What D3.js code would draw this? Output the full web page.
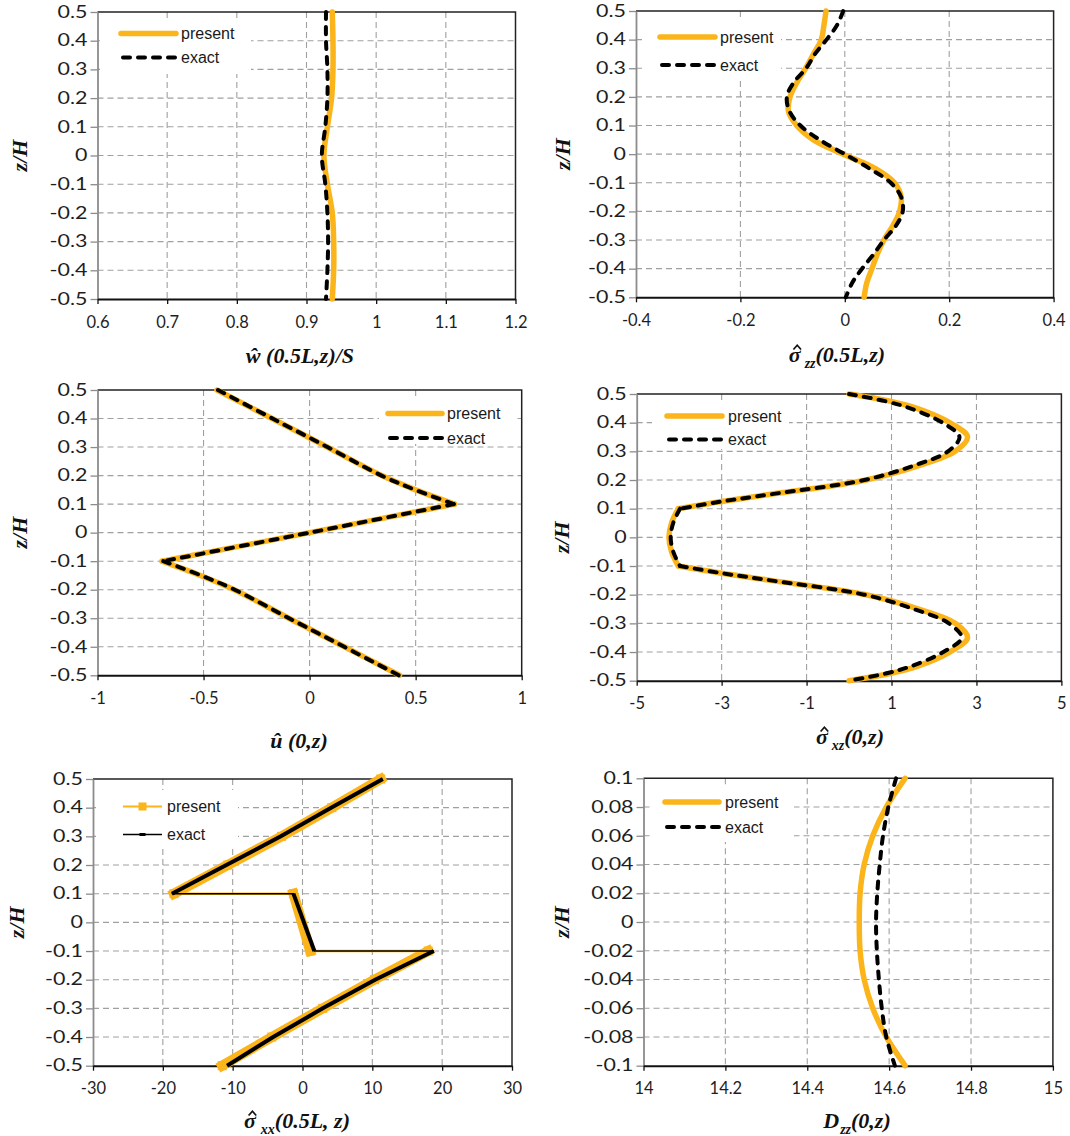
<!DOCTYPE html>
<html>
<head>
<meta charset="utf-8">
<script src="https://cdn.jsdelivr.net/npm/d3@7"></script>
<style>
  body { margin: 0; background: #fff; }
</style>
</head>
<body>
<svg id="chart" width="1070" height="1136"></svg>
<script>
// ---------- shared thickness coordinate ----------
const zTicks = [-0.5, -0.4, -0.3, -0.2, -0.1, 0, 0.1, 0.2, 0.3, 0.4, 0.5];
const zTicksCore = [-0.1, -0.08, -0.06, -0.04, -0.02, 0, 0.02, 0.04, 0.06, 0.08, 0.1];

// ---------- w(0.5L,z)/S ----------
const zW = [0.5, 0.4, 0.3, 0.2, 0.1, 0, -0.1, -0.2, -0.3, -0.4, -0.5];
const wPresent = [0.937, 0.938, 0.938, 0.936, 0.930, 0.925, 0.930, 0.937, 0.939, 0.939, 0.937];
const wExact   = [0.928, 0.928, 0.930, 0.930, 0.927, 0.922, 0.927, 0.930, 0.931, 0.930, 0.928];
const wTicks = [0.6, 0.7, 0.8, 0.9, 1, 1.1, 1.2];

// ---------- sigma_zz(0.5L,z) ----------
const zSzz = [0.5, 0.45, 0.4, 0.35, 0.3, 0.25, 0.2, 0.15, 0.1, 0.05, 0, -0.05, -0.1, -0.15, -0.2, -0.25, -0.3, -0.35, -0.4, -0.45, -0.5];
const szzPresent = [-0.036, -0.040, -0.045, -0.060, -0.075, -0.092, -0.105, -0.108, -0.092, -0.060, -0.003, 0.058, 0.095, 0.108, 0.105, 0.092, 0.075, 0.062, 0.052, 0.042, 0.037];
const szzExact   = [-0.003, -0.015, -0.035, -0.057, -0.074, -0.098, -0.111, -0.106, -0.085, -0.048, 0.000, 0.047, 0.088, 0.108, 0.111, 0.098, 0.075, 0.055, 0.033, 0.014, 0.002];
const szzTicks = [-0.4, -0.2, 0, 0.2, 0.4];

// ---------- u(0,z) ----------
const zU = [0.5, 0.4, 0.3, 0.2, 0.15, 0.1, 0, -0.1, -0.15, -0.2, -0.3, -0.4, -0.5];
const uPresent = [-0.437, -0.177, 0.083, 0.340, 0.500, 0.683, 0, -0.696, -0.515, -0.355, -0.098, 0.164, 0.424];
const uExact   = [-0.432, -0.175, 0.084, 0.339, 0.498, 0.680, 0, -0.690, -0.512, -0.353, -0.097, 0.163, 0.420];
const uTicks = [-1, -0.5, 0, 0.5, 1];

// ---------- sigma_xz(0,z) ----------
const zSxz = [0.5, 0.475, 0.45, 0.4, 0.35, 0.3, 0.25, 0.2, 0.15, 0.125, 0.1, 0.05, 0, -0.05, -0.1, -0.125, -0.15, -0.2, -0.25, -0.3, -0.35, -0.4, -0.45, -0.475, -0.5];
const sxzPresent = [0.0, 0.96, 1.60, 2.37, 2.79, 2.50, 1.64, 0.40, -1.85, -3.00, -4.02, -4.18, -4.24, -4.18, -4.02, -3.00, -1.85, 0.40, 1.64, 2.50, 2.79, 2.37, 1.60, 0.96, 0.0];
const sxzExact   = [0.0, 0.85, 1.44, 2.20, 2.60, 2.33, 1.52, 0.36, -1.85, -3.00, -3.98, -4.14, -4.20, -4.14, -3.98, -3.00, -1.85, 0.36, 1.52, 2.35, 2.65, 2.22, 1.45, 0.86, 0.0];
const sxzTicks = [-5, -3, -1, 1, 3, 5];

// ---------- sigma_xx(0.5L,z), one array per layer ----------
const zSxxTop  = [0.5, 0.4, 0.3, 0.2, 0.1];
const zSxxCore = [0.1, -0.1];
const zSxxBot  = [-0.1, -0.2, -0.3, -0.4, -0.5];
const sxxPresentTop  = [11.2, 4.2, -3.0, -10.7, -18.4];
const sxxPresentCore = [-1.3, 1.1];
const sxxPresentBot  = [18.0, 10.3, 2.9, -4.4, -11.5];
const sxxExactTop  = [11.5, 4.1, -3.1, -10.9, -18.7];
const sxxExactCore = [-1.3, 1.7];
const sxxExactBot  = [18.8, 10.4, 2.9, -4.2, -10.8];
const sxxTicks = [-30, -20, -10, 0, 10, 20, 30];

// ---------- D_zz(0,z) ----------
const zD = [0.1, 0.08, 0.06, 0.04, 0.02, 0, -0.02, -0.04, -0.06, -0.08, -0.1];
const dPresent = [14.639, 14.593, 14.560, 14.539, 14.529, 14.527, 14.529, 14.539, 14.560, 14.593, 14.639];
const dExact   = [14.617, 14.598, 14.585, 14.577, 14.571, 14.568, 14.570, 14.575, 14.582, 14.593, 14.614];
const dTicks = [14, 14.2, 14.4, 14.6, 14.8, 15];

const seriesNames = ["present", "exact"];

// ---------- drawing ----------
const ORANGE = "#FBB419";
const SERIF = "'Liberation Serif', 'DejaVu Serif', serif";
const svg = d3.select("#chart");
svg.append("rect").attr("width", 1070).attr("height", 1136).attr("fill", "#fff");

const pts = (zs, vs) => zs.map((z, i) => [vs[i], z]);

// split a profile into layers at the interfaces z = +-0.1 (interface point kept in both)
function layers(points) {
  return [
    points.filter(p => p[1] >= 0.1 - 1e-9),
    points.filter(p => p[1] <= 0.1 + 1e-9 && p[1] >= -0.1 - 1e-9),
    points.filter(p => p[1] <= -0.1 + 1e-9)
  ].filter(s => s.length > 1);
}

function addPanel(o) {
  const b = o.box;
  const x = d3.scaleLinear().domain([o.xTicks[0], o.xTicks[o.xTicks.length - 1]]).range([b.left, b.right]);
  const y = d3.scaleLinear().domain([o.yTicks[0], o.yTicks[o.yTicks.length - 1]]).range([b.bottom, b.top]);
  const g = svg.append("g");

  const grid = g.append("g").attr("fill", "none").attr("stroke", "#a0a0a0")
    .attr("stroke-width", 1.1).attr("stroke-dasharray", "6,4");
  grid.append("g").selectAll("line").data(o.xTicks.slice(1, -1)).join("line")
    .attr("x1", d => x(d)).attr("x2", d => x(d)).attr("y1", b.top).attr("y2", b.bottom);
  grid.append("g").selectAll("line").data(o.yTicks.slice(1, -1)).join("line")
    .attr("x1", b.left).attr("x2", b.right).attr("y1", d => y(d)).attr("y2", d => y(d));

  g.append("path").attr("d", `M${b.left},${b.top}H${b.right}V${b.bottom}`)
    .attr("fill", "none").attr("stroke", "#222").attr("stroke-width", 1.5);

  const ay = g.append("g").attr("transform", `translate(${b.left},0)`)
    .call(d3.axisLeft(y).tickValues(o.yTicks).tickFormat(String).tickSize(7).tickSizeOuter(0));
  ay.select(".domain").attr("stroke", "#8c8c8c").attr("stroke-width", 1.8);
  ay.selectAll(".tick line").attr("stroke", "#8c8c8c").attr("stroke-width", 1.3);
  ay.selectAll(".tick text")
    .attr("font-family", "Lato, 'Open Sans', sans-serif").attr("font-size", 16.5).attr("fill", "#1e1e1e")
    .attr("x", -10 / 1.3).attr("transform", "scale(1.3,1)");

  const ax = g.append("g").attr("transform", `translate(0,${b.bottom})`)
    .call(d3.axisBottom(x).tickValues(o.xTicks).tickFormat(String).tickSize(5).tickPadding(12).tickSizeOuter(0));
  ax.select(".domain").attr("stroke", "#111").attr("stroke-width", 2);
  ax.selectAll(".tick line").attr("stroke", "#111").attr("stroke-width", 1.3);
  ax.selectAll(".tick text")
    .attr("font-family", "Lato, 'Open Sans', sans-serif").attr("font-size", 16.5).attr("fill", "#1e1e1e");

  // vertical axis title
  g.append("text").attr("transform", `translate(${o.yTitleX},${(b.top + b.bottom) / 2}) rotate(-90)`)
    .attr("text-anchor", "middle").attr("dy", "0.35em")
    .attr("font-family", SERIF).attr("font-weight", "bold")
    .attr("font-style", "italic").attr("font-size", 22).attr("fill", "#111").text("z/H");

  // horizontal axis title
  const t = g.append("text").attr("x", o.titleX).attr("y", o.titleY).attr("text-anchor", "middle")
    .attr("font-family", SERIF).attr("font-weight", "bold")
    .attr("font-style", "italic").attr("font-size", 22).attr("fill", "#111");
  o.title.forEach(part => {
    if (part.sub) {
      t.append("tspan").attr("font-size", 14).attr("dx", part.gap || 0).attr("dy", 6).text(part.sub);
      t.append("tspan").attr("dy", -6).text(part.after);
    } else {
      t.append("tspan").text(part.t);
    }
  });
  // circumflex accent drawn over the leading sigma
  if (o.hat) {
    const node = t.node();
    const s = node.getStartPositionOfChar(0), e = node.getEndPositionOfChar(0);
    const cx = (s.x + e.x) / 2 + 2.5, by = o.titleY - 12.5;
    g.append("path").attr("d", `M${cx - 3.8},${by} L${cx},${by - 4.2} L${cx + 3.8},${by}`)
      .attr("fill", "none").attr("stroke", "#111").attr("stroke-width", 1.7).attr("stroke-linejoin", "miter");
  }
  return { g, x, y };
}

function smoothLine(x, y, curve) {
  return d3.line().x(d => x(d[0])).y(d => y(d[1])).curve(curve || d3.curveCatmullRom.alpha(0.5));
}

function drawPair(p, present, exact, split) {
  const line = smoothLine(p.x, p.y);
  const pSegs = split ? layers(present) : [present];
  const eSegs = split ? layers(exact) : [exact];
  p.g.append("g").selectAll("path").data(pSegs).join("path")
    .attr("d", line).attr("fill", "none").attr("stroke", ORANGE)
    .attr("stroke-width", 5.5).attr("stroke-linecap", "round").attr("stroke-linejoin", "round");
  p.g.append("g").selectAll("path").data(eSegs).join("path")
    .attr("d", line).attr("fill", "none").attr("stroke", "#000")
    .attr("stroke-width", 4).attr("stroke-dasharray", "7,8").attr("stroke-linecap", "round");
}

function legend(p, L, markers) {
  const lg = p.g.append("g");
  lg.append("rect").attr("x", L.box[0]).attr("y", L.box[1]).attr("width", L.box[2]).attr("height", L.box[3]).attr("fill", "#fff");
  if (!markers) {
    lg.append("line").attr("x1", L.x0).attr("x2", L.x1).attr("y1", L.y[0]).attr("y2", L.y[0])
      .attr("stroke", ORANGE).attr("stroke-width", 5.5).attr("stroke-linecap", "round");
    lg.append("line").attr("x1", L.x0 + 2).attr("x2", L.x1).attr("y1", L.y[1]).attr("y2", L.y[1])
      .attr("stroke", "#000").attr("stroke-width", 4).attr("stroke-dasharray", "7,8").attr("stroke-linecap", "round");
  } else {
    const cx = (L.x0 + L.x1) / 2;
    lg.append("line").attr("x1", L.x0).attr("x2", L.x1).attr("y1", L.y[0]).attr("y2", L.y[0])
      .attr("stroke", ORANGE).attr("stroke-width", 2);
    lg.append("rect").attr("x", cx - 4).attr("y", L.y[0] - 4).attr("width", 8).attr("height", 8).attr("fill", ORANGE);
    lg.append("line").attr("x1", L.x0).attr("x2", L.x1).attr("y1", L.y[1]).attr("y2", L.y[1])
      .attr("stroke", "#000").attr("stroke-width", 1.5);
    lg.append("rect").attr("x", cx - 3).attr("y", L.y[1] - 1.5).attr("width", 6).attr("height", 3).attr("fill", "#000");
  }
  lg.selectAll("text").data(seriesNames).join("text")
    .attr("x", L.tx).attr("y", (d, i) => L.y[i] + 5.5)
    .attr("font-family", "'Liberation Sans', Arial, sans-serif").attr("font-size", 16).attr("fill", "#1a1a1a")
    .text(d => d);
}

const SIG = "\u03C3";

// top-left: deflection
const p1 = addPanel({ box: { left: 97.5, right: 515.5, top: 12, bottom: 299 }, xTicks: wTicks, yTicks: zTicks,
  yTitleX: 19, titleX: 300, titleY: 363, title: [{ t: "\u0175 (0.5L,z)/S" }] });
drawPair(p1, pts(zW, wPresent), pts(zW, wExact), false);
legend(p1, { box: [100, 18, 151, 56], x0: 121, x1: 176, y: [33.5, 57.5], tx: 181 });

// top-right: transverse normal stress
const p2 = addPanel({ box: { left: 636, right: 1053.6, top: 11, bottom: 297.3 }, xTicks: szzTicks, yTicks: zTicks,
  yTitleX: 562, titleX: 837, titleY: 362, hat: true, title: [{ t: SIG }, { sub: "zz", gap: 4, after: "(0.5L,z)" }] });
drawPair(p2, pts(zSzz, szzPresent), pts(zSzz, szzExact), false);
legend(p2, { box: [645, 20, 136, 60], x0: 660, x1: 715, y: [37, 65], tx: 720 });

// middle-left: in-plane displacement
const p3 = addPanel({ box: { left: 97.5, right: 521.7, top: 390, bottom: 675.3 }, xTicks: uTicks, yTicks: zTicks,
  yTitleX: 19, titleX: 299, titleY: 748, title: [{ t: "\u00FB (0,z)" }] });
drawPair(p3, pts(zU, uPresent), pts(zU, uExact), true);
legend(p3, { box: [379, 397, 138, 47], x0: 388, x1: 442, y: [413.5, 438], tx: 447 });

// middle-right: transverse shear stress
const p4 = addPanel({ box: { left: 636.7, right: 1061.4, top: 394, bottom: 680.7 }, xTicks: sxzTicks, yTicks: zTicks,
  yTitleX: 561, titleX: 850, titleY: 744, hat: true, title: [{ t: SIG }, { sub: "xz", gap: 4, after: "(0,z)" }] });
drawPair(p4, pts(zSxz, sxzPresent), pts(zSxz, sxzExact), true);
legend(p4, { box: [652, 400, 137, 49], x0: 667, x1: 722, y: [416, 439.5], tx: 728 });

// bottom-left: bending stress, dense-marker profiles
const p5 = addPanel({ box: { left: 93, right: 512, top: 779, bottom: 1065.7 }, xTicks: sxxTicks, yTicks: zTicks,
  yTitleX: 16, titleX: 297, titleY: 1128, hat: true, title: [{ t: SIG }, { sub: "xx", gap: 5, after: "(0.5L, z)" }] });
{
  const lin = smoothLine(p5.x, p5.y, d3.curveLinear);
  const prLayers = [pts(zSxxTop, sxxPresentTop), pts(zSxxCore, sxxPresentCore), pts(zSxxBot, sxxPresentBot)];
  const exLayers = [pts(zSxxTop, sxxExactTop), pts(zSxxCore, sxxExactCore), pts(zSxxBot, sxxExactBot)];
  const prAll = prLayers.flat();
  const exAll = exLayers.flat();
  p5.g.append("path").attr("d", lin(prAll)).attr("fill", "none").attr("stroke", ORANGE).attr("stroke-width", 2.5);
  p5.g.append("g").selectAll("path").data(prLayers).join("path").attr("d", lin)
    .attr("fill", "none").attr("stroke", ORANGE).attr("stroke-width", 10).attr("stroke-linecap", "square");
  p5.g.append("g").selectAll("rect").data(prAll).join("rect")
    .attr("x", d => p5.x(d[0]) - 4.5).attr("y", d => p5.y(d[1]) - 4.5).attr("width", 9).attr("height", 9).attr("fill", ORANGE);
  p5.g.append("path").attr("d", lin(exAll)).attr("fill", "none").attr("stroke", "#000").attr("stroke-width", 1.4);
  p5.g.append("g").selectAll("path").data(exLayers).join("path").attr("d", lin)
    .attr("fill", "none").attr("stroke", "#000").attr("stroke-width", 4).attr("stroke-linecap", "butt");
}
legend(p5, { box: [96, 790, 142, 58], x0: 123, x1: 162, y: [806.5, 834.5], tx: 167 }, true);

// bottom-right: transverse stiffness
const p6 = addPanel({ box: { left: 643.5, right: 1052.9, top: 778.3, bottom: 1065.7 }, xTicks: dTicks, yTicks: zTicksCore,
  yTitleX: 561, titleX: 857, titleY: 1128, title: [{ t: "D" }, { sub: "zz", gap: 1, after: "(0,z)" }] });
drawPair(p6, pts(zD, dPresent), pts(zD, dExact), false);
legend(p6, { box: [650, 786, 144, 56], x0: 665, x1: 719, y: [802, 827], tx: 725 });
</script>
</body>
</html>
